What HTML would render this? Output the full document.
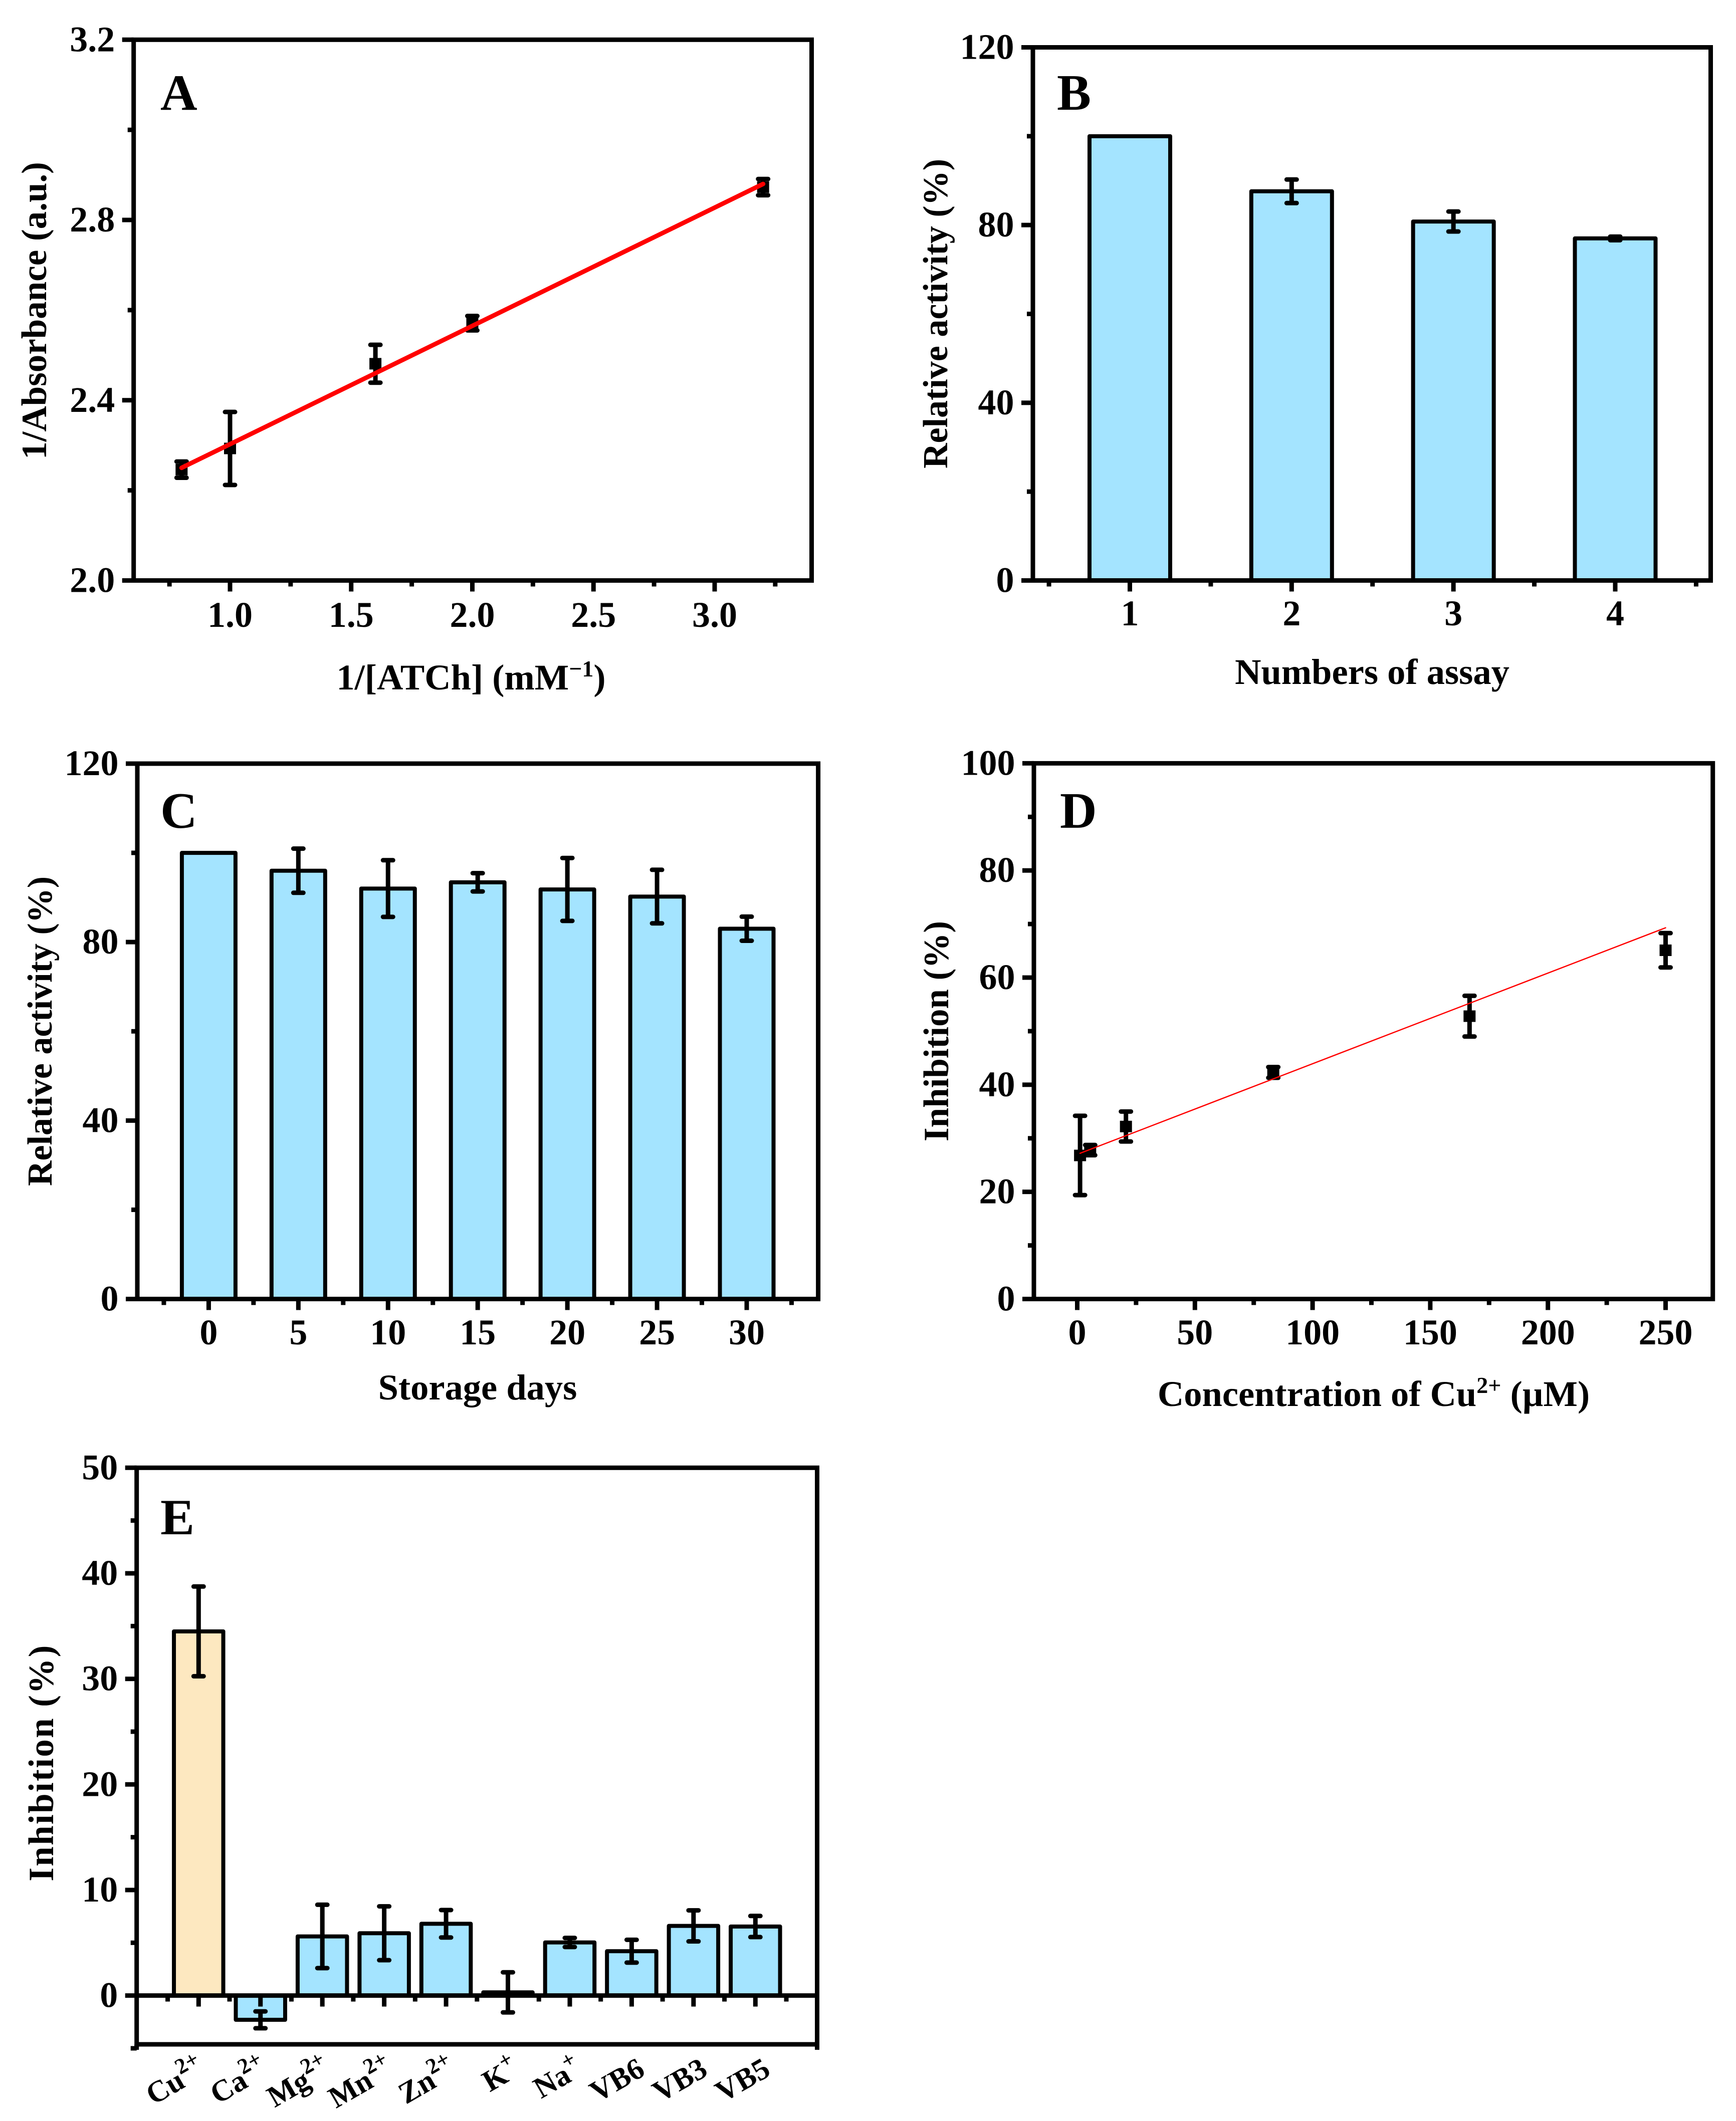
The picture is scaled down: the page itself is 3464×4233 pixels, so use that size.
<!DOCTYPE html>
<html lang="en">
<head>
<meta charset="utf-8">
<title>Enzyme activity figure, panels A to E</title>
<style>
html,body{margin:0;padding:0;background:#fff;width:3464px;height:4233px;overflow:hidden}
svg{display:block}
text{font-family:"Liberation Serif","DejaVu Serif",serif;font-weight:bold;fill:#000}
.tick{font-size:72px}
.title{font-size:71px}
.title2{font-size:70px}
.xtitle{font-size:72.5px}
.letter{font-size:102px}
.cat{font-size:60px}
</style>
</head>
<body>
<svg id="fig" xmlns="http://www.w3.org/2000/svg" width="3464" height="4233" viewBox="0 0 3464 4233">
  <rect width="3464" height="4233" fill="#fff"/>

  <g id="panel-a">
    <text class="letter" x="320" y="219">A</text>
    <text class="title" text-anchor="middle" transform="translate(92,620) rotate(-90)">1/Absorbance (a.u.)</text>
    <text class="xtitle" text-anchor="middle" x="940" y="1376">1/[ATCh] (mM<tspan dy="-26" font-size="46">−1</tspan><tspan dy="26">)</tspan></text>
  </g>
  <g id="panel-b">
    <text class="letter" x="2109" y="219">B</text>
    <text class="title2" text-anchor="middle" transform="translate(1890,626) rotate(-90)">Relative activity (%)</text>
    <text class="xtitle" text-anchor="middle" x="2738" y="1365">Numbers of assay</text>
  </g>
  <g id="panel-c">
    <text class="letter" x="320" y="1652">C</text>
    <text class="title2" text-anchor="middle" transform="translate(103,2058) rotate(-90)">Relative activity (%)</text>
    <text class="xtitle" text-anchor="middle" x="953" y="2793">Storage days</text>
  </g>
  <g id="panel-d">
    <text class="letter" x="2115" y="1652">D</text>
    <text class="title" text-anchor="middle" transform="translate(1892,2058) rotate(-90)">Inhibition (%)</text>
    <text class="xtitle" text-anchor="middle" x="2741" y="2806">Concentration of Cu<tspan dy="-26" font-size="46">2+</tspan><tspan dy="26"> (µM)</tspan></text>
  </g>
  <g id="panel-e">
    <text class="letter" x="320" y="3062">E</text>
    <text class="title" text-anchor="middle" style="letter-spacing:2.4px" transform="translate(106,3518) rotate(-90)">Inhibition (%)</text>
  </g>
</svg>

<script>
// Panel A data
const aX = [0.8, 1.0, 1.6, 2.0, 3.2];
const aY = [2.246, 2.293, 2.481, 2.571, 2.873];
const aErr = [0.018, 0.081, 0.042, 0.016, 0.018];
const aFitX = [0.8, 3.2];
const aFitY = [2.25, 2.88];
const aXTicks = [1.0, 1.5, 2.0, 2.5, 3.0];
const aXMinor = [0.75, 1.25, 1.75, 2.25, 2.75, 3.25];
const aYTicks = [2.0, 2.4, 2.8, 3.2];
const aYMinor = [2.2, 2.6, 3.0];

// Panel B data
const bCats = ['1', '2', '3', '4'];
const bVals = [100, 87.6, 80.8, 77.0];
const bErr = [0, 2.65, 2.25, 0.4];
const bYTicks = [0, 40, 80, 120];
const bYMinor = [20, 60, 100];

// Panel C data
const cCats = ['0', '5', '10', '15', '20', '25', '30'];
const cVals = [100, 96.0, 92.0, 93.4, 91.8, 90.2, 83.0];
const cErr = [0, 4.95, 6.35, 2.05, 7.05, 6.0, 2.7];
const cYTicks = [0, 40, 80, 120];
const cYMinor = [20, 60, 100];

// Panel D data
const dX = [1.2, 5.5, 20.7, 83.3, 166.7, 250];
const dY = [26.8, 27.8, 32.2, 42.3, 52.8, 65.1];
const dErr = [7.4, 0.95, 2.8, 1.0, 3.8, 3.2];
const dFitX = [1.2, 250];
const dFitY = [27.2, 69.3];
const dXTicks = [0, 50, 100, 150, 200, 250];
const dXMinor = [25, 75, 125, 175, 225];
const dYTicks = [0, 20, 40, 60, 80, 100];
const dYMinor = [10, 30, 50, 70, 90];

// Panel E data
const eCats = ['Cu', 'Ca', 'Mg', 'Mn', 'Zn', 'K', 'Na', 'VB6', 'VB3', 'VB5'];
const eSups = ['2+', '2+', '2+', '2+', '2+', '+', '+', '', '', ''];
const eVals = [34.5, -2.3, 5.6, 5.9, 6.8, 0.3, 5.03, 4.2, 6.6, 6.54];
const eErr = [4.25, 0.8, 3.0, 2.55, 1.3, 1.9, 0.43, 1.08, 1.47, 1.0];
const eYTicks = [0, 10, 20, 30, 40, 50];
const eYMinor = [-5, 5, 15, 25, 35, 45];

const NS = 'http://www.w3.org/2000/svg';
const BLUE = '#a4e4ff';
const CREAM = '#fde8c0';

function mk(tag, parent) {
  const el = document.createElementNS(NS, tag);
  
  parent.appendChild(el);
  return el;
}
function scale(d0, d1, p0, p1) {
  return v => p0 + (v - d0) * (p1 - p0) / (d1 - d0);
}
function seg(el, x1, y1, x2, y2, w, col, cap) {
  el.setAttribute('x1', x1);
  el.setAttribute('y1', y1);
  el.setAttribute('x2', x2);
  el.setAttribute('y2', y2);
  el.setAttribute('stroke', col || '#000');
  el.setAttribute('stroke-width', w);
  el.setAttribute('stroke-linecap', cap || 'butt');
}
function drawYAxis(g, ax, y, major, minor, fmt) {
  major.forEach(v => {
    const t = mk('line', g);
    
    seg(t, ax.left - 23, y(v), ax.left, y(v), 9);
    const lab = mk('text', g);
    
    lab.setAttribute('class', 'tick');
    lab.setAttribute('text-anchor', 'end');
    lab.setAttribute('x', ax.left - 37.5);
    lab.setAttribute('y', y(v) + 23);
    lab.textContent = fmt(v);
  });
  minor.forEach(v => {
    const t = mk('line', g);
    
    seg(t, ax.left - 12, y(v), ax.left, y(v), 9);
  });
}
function drawXAxis(g, ax, base, labelY, xs, labels, minorXs) {
  xs.forEach((px, i) => {
    const t = mk('line', g);
    
    seg(t, px, base, px, base + 22, 9);
    if (labels) {
      const lab = mk('text', g);
      
      lab.setAttribute('class', 'tick');
      lab.setAttribute('text-anchor', 'middle');
      lab.setAttribute('x', px);
      lab.setAttribute('y', labelY);
      lab.textContent = labels[i];
    }
  });
  minorXs.forEach(px => {
    const t = mk('line', g);
    
    seg(t, px, base, px, base + 12, 9);
  });
}
function drawFrame(g, ax) {
  const f = mk('rect', g);
  
  f.setAttribute('x', ax.left);
  f.setAttribute('y', ax.top);
  f.setAttribute('width', ax.right - ax.left);
  f.setAttribute('height', ax.bottom - ax.top);
  f.setAttribute('fill', 'none');
  f.setAttribute('stroke', '#000');
  f.setAttribute('stroke-width', 9);
  f.setAttribute('stroke-linejoin', 'miter');
}
function drawBar(g, cx, w, y0px, ypx, fill) {
  const b = mk('rect', g);
  
  b.setAttribute('x', cx - w / 2);
  b.setAttribute('y', Math.min(y0px, ypx));
  b.setAttribute('width', w);
  b.setAttribute('height', Math.abs(y0px - ypx));
  b.setAttribute('fill', fill);
  b.setAttribute('stroke', '#000');
  b.setAttribute('stroke-width', 8);
  b.setAttribute('stroke-linejoin', 'round');
}
function drawErr(g, cx, yHi, yLo, capW) {
  const s = mk('line', g);
  
  seg(s, cx, yHi, cx, yLo, 9);
  const c1 = mk('line', g);
  
  seg(c1, cx - capW / 2, yHi, cx + capW / 2, yHi, 9, '#000', 'round');
  const c2 = mk('line', g);
  
  seg(c2, cx - capW / 2, yLo, cx + capW / 2, yLo, 9, '#000', 'round');
}
function drawPoint(g, cx, cy, w, h) {
  const p = mk('rect', g);
  
  p.setAttribute('x', cx - w / 2);
  p.setAttribute('y', cy - h / 2);
  p.setAttribute('width', w);
  p.setAttribute('height', h);
  p.setAttribute('fill', '#000');
}
function drawFit(g, x, y, fx, fy, w) {
  const l = mk('line', g);
  
  seg(l, x(fx[0]), y(fy[0]), x(fx[1]), y(fy[1]), w, '#ff0000', 'round');
}

// Panel A
(function () {
  const g = document.getElementById('panel-a');
  const ax = {left: 266.7, right: 1619.5, top: 79.3, bottom: 1158.5};
  const x = scale(1, 3, 459, 1426);
  const y = scale(2.0, 3.2, ax.bottom, ax.top);
  aX.forEach((v, i) => {
    drawErr(g, x(v), y(aY[i] + aErr[i]), y(aY[i] - aErr[i]), 20);
    drawPoint(g, x(v), y(aY[i]), 24, 23);
  });
  drawFit(g, x, y, aFitX, aFitY, 9);
  drawFrame(g, ax);
  drawYAxis(g, ax, y, aYTicks, aYMinor, v => v.toFixed(1));
  drawXAxis(g, ax, ax.bottom, 1251, aXTicks.map(x), aXTicks.map(v => v.toFixed(1)), aXMinor.map(x));
})();

// Panel B
(function () {
  const g = document.getElementById('panel-b');
  const ax = {left: 2061, right: 3413.5, top: 94.5, bottom: 1158.5};
  const x = scale(0, 3, 2254.5, 3223);
  const y = scale(0, 120, ax.bottom, ax.top);
  bVals.forEach((v, i) => {
    drawBar(g, x(i), 161, y(0), y(v), BLUE);
    if (bErr[i] > 0) drawErr(g, x(i), y(v + bErr[i]), y(v - bErr[i]), 20);
  });
  drawFrame(g, ax);
  drawYAxis(g, ax, y, bYTicks, bYMinor, v => String(v));
  const minors = [];
  for (let i = -0.5; i < bCats.length; i += 1) minors.push(x(i));
  drawXAxis(g, ax, ax.bottom, 1248, bCats.map((c, i) => x(i)), bCats, minors);
})();

// Panel C
(function () {
  const g = document.getElementById('panel-c');
  const ax = {left: 274, right: 1632.6, top: 1524, bottom: 2592.5};
  const x = scale(0, 6, 416.4, 1490);
  const y = scale(0, 120, ax.bottom, ax.top);
  cVals.forEach((v, i) => {
    drawBar(g, x(i), 107, y(0), y(v), BLUE);
    if (cErr[i] > 0) drawErr(g, x(i), y(v + cErr[i]), y(v - cErr[i]), 20);
  });
  drawFrame(g, ax);
  drawYAxis(g, ax, y, cYTicks, cYMinor, v => String(v));
  const minors = [];
  for (let i = -0.5; i < cCats.length; i += 1) minors.push(x(i));
  drawXAxis(g, ax, ax.bottom, 2683, cCats.map((c, i) => x(i)), cCats, minors);
})();

// Panel D
(function () {
  const g = document.getElementById('panel-d');
  const ax = {left: 2063, right: 3417.7, top: 1523.4, bottom: 2592.5};
  const x = scale(0, 250, 2149.5, 3323.5);
  const y = scale(0, 100, ax.bottom, ax.top);
  dX.forEach((v, i) => {
    drawErr(g, x(v), y(dY[i] + dErr[i]), y(dY[i] - dErr[i]), 20);
    drawPoint(g, x(v), y(dY[i]), 24, 23);
  });
  drawFit(g, x, y, dFitX, dFitY, 2.5);
  drawFrame(g, ax);
  drawYAxis(g, ax, y, dYTicks, dYMinor, v => String(v));
  drawXAxis(g, ax, ax.bottom, 2683, dXTicks.map(x), dXTicks.map(String), dXMinor.map(x));
})();

// Panel E
(function () {
  const g = document.getElementById('panel-e');
  const ax = {left: 272.7, right: 1630.5, top: 2929.3, bottom: 4080};
  const x = scale(0, 9, 396.3, 1507.3);
  const y = scale(0, 50, 3982.6, ax.top);
  eVals.forEach((v, i) => {
    drawBar(g, x(i), 98.5, y(0), y(v), i === 0 ? CREAM : BLUE);
    drawErr(g, x(i), y(v + eErr[i]), y(v - eErr[i]), 20);
  });
  drawFrame(g, ax);
  const zero = mk('line', g);
  
  seg(zero, ax.left, y(0), ax.right, y(0), 9);
  const spineL = mk('line', g);
  
  seg(spineL, ax.left, ax.bottom, ax.left, y(-5) + 3, 9);
  const spineR = mk('line', g);
  
  seg(spineR, ax.right, ax.bottom, ax.right, y(-5) + 3, 9);
  drawYAxis(g, ax, y, eYTicks, eYMinor, v => String(v));
  const minors = [];
  for (let i = -0.5; i < eCats.length; i += 1) minors.push(x(i));
  drawXAxis(g, ax, y(0), 0, eCats.map((c, i) => x(i)), null, minors);
  eCats.forEach((c, i) => {
    const t = mk('text', g);
    
    t.setAttribute('class', 'cat');
    t.setAttribute('text-anchor', 'end');
    t.setAttribute('transform', 'translate(' + (x(i) + 17 + 1.8 * i) + ',4140) rotate(-30)');
    t.textContent = c;
    if (eSups[i]) {
      const s = mk('tspan', t);
      
      s.setAttribute('font-size', '44');
      s.setAttribute('dy', '-26');
      s.textContent = eSups[i];
    }
  });
})();
</script>
</body>
</html>
